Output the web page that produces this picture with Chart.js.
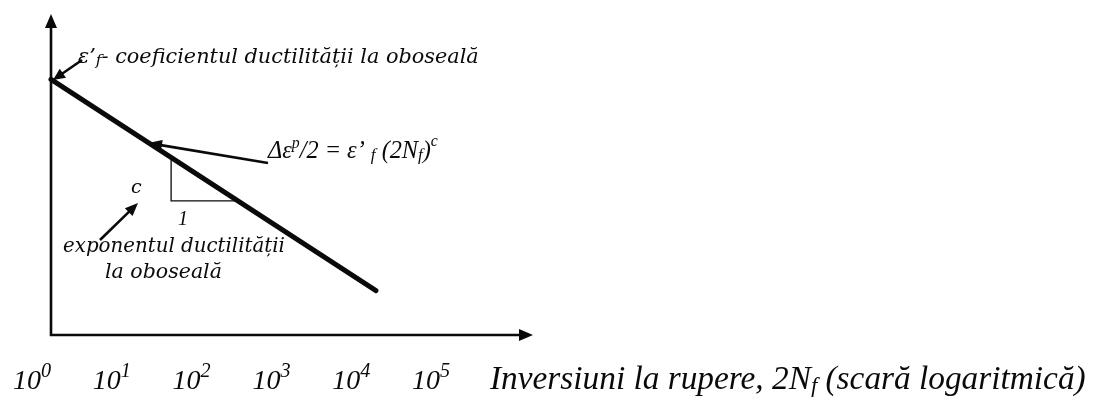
<!DOCTYPE html>
<html>
<head>
<meta charset="utf-8">
<script src="https://cdn.jsdelivr.net/npm/chart.js@4.4.1/dist/chart.umd.min.js"></script>
<style>
  html, body { margin: 0; padding: 0; background: #fff; }
  canvas { display: block; }
</style>
</head>
<body>
<canvas id="c" width="1095" height="397"></canvas>
<script>
// Plastic strain amplitude vs. reversals to failure (Coffin–Manson), log–log schematic
const reversals = [1, 11800];                 // 2N_f
const plasticAmplitude = [0.5, 0.00109];      // Δε^p/2
const slopeTriangleX = [32, 32, 222];         // run of the "1 : c" slope marker
const slopeTriangleY = [0.052, 0.0147, 0.0147];
const tickExponents = [0, 1, 2, 3, 4, 5];     // decade labels 10^n
const tickBase = '10';

const INK = '#0a0a0a';
const SERIF_ANN = '"DejaVu Serif", serif';
const SERIF_TNR = '"Liberation Serif", "Times New Roman", serif';

function richWidth(ctx, pieces, size, family) {
  let w = 0;
  for (const p of pieces) {
    ctx.font = `italic ${size * (p.s || 1)}px ${family}`;
    w += ctx.measureText(p.t).width;
  }
  return w;
}

// Draws italic text runs (with sub/superscripts), optionally scaling the
// font so the whole run spans a given width.
function drawRich(ctx, pieces, x, y, family, size, fitWidth) {
  if (fitWidth) size = size * fitWidth / richWidth(ctx, pieces, size, family);
  ctx.textAlign = 'left';
  ctx.textBaseline = 'alphabetic';
  for (const p of pieces) {
    ctx.font = `italic ${size * (p.s || 1)}px ${family}`;
    ctx.fillText(p.t, x, y + (p.dy || 0) * size);
    x += ctx.measureText(p.t).width;
  }
  return size;
}

function arrow(ctx, x0, y0, x1, y1, lw, headLen, headW) {
  const a = Math.atan2(y1 - y0, x1 - x0);
  const c = Math.cos(a), s = Math.sin(a);
  const bx = x1 - headLen * c, by = y1 - headLen * s;
  ctx.lineWidth = lw;
  ctx.beginPath();
  ctx.moveTo(x0, y0);
  ctx.lineTo(bx + 1 * c, by + 1 * s);
  ctx.stroke();
  ctx.beginPath();
  ctx.moveTo(x1, y1);
  ctx.lineTo(bx - headW * s, by + headW * c);
  ctx.lineTo(bx + headW * s, by - headW * c);
  ctx.closePath();
  ctx.fill();
}

const annotations = {
  id: 'annotations',
  afterDraw(chart) {
    const { ctx, chartArea: ca, scales } = chart;
    const xs = scales.x;
    ctx.save();
    ctx.strokeStyle = INK;
    ctx.fillStyle = INK;
    ctx.lineCap = 'butt';

    // axes with arrowheads
    ctx.lineWidth = 2.6;
    ctx.beginPath();
    ctx.moveTo(ca.left, ca.bottom + 1.3);
    ctx.lineTo(ca.left, ca.top + 12);
    ctx.moveTo(ca.left - 1.3, ca.bottom);
    ctx.lineTo(ca.right - 12, ca.bottom);
    ctx.stroke();
    ctx.beginPath();
    ctx.moveTo(ca.left, ca.top);
    ctx.lineTo(ca.left - 6, ca.top + 14);
    ctx.lineTo(ca.left + 6, ca.top + 14);
    ctx.closePath();
    ctx.moveTo(ca.right, ca.bottom);
    ctx.lineTo(ca.right - 14, ca.bottom - 6);
    ctx.lineTo(ca.right - 14, ca.bottom + 6);
    ctx.closePath();
    ctx.fill();

    // decade labels along the reversals axis
    for (const e of tickExponents) {
      const left = xs.getPixelForValue(Math.pow(10, e)) - 38;
      drawRich(ctx, [
        { t: tickBase },
        { t: String(e), s: 0.72, dy: -0.43 }
      ], left, 389, SERIF_TNR, 28);
    }

    // axis title
    drawRich(ctx, [
      { t: 'Inversiuni la rupere, 2N' },
      { t: 'f', s: 0.68, dy: 0.12 },
      { t: ' (scară logaritmică)' }
    ], 490, 389, SERIF_TNR, 28, 596);

    // ε'_f label and its arrow to the intercept
    drawRich(ctx, [
      { t: 'ε\u2019' },
      { t: 'f', s: 0.75, dy: 0.12 },
      { t: '- coeficientul ductilității la oboseală' }
    ], 78, 63, SERIF_ANN, 17, 401);
    arrow(ctx, 82, 60, ca.left + 2, 80, 2.6, 12, 5.5);

    // Coffin–Manson relation and its arrow to the line
    drawRich(ctx, [
      { t: 'Δε' },
      { t: 'p', s: 0.65, dy: -0.42 },
      { t: '/2 = ε\u2019 ' },
      { t: 'f', s: 0.7, dy: 0.1 },
      { t: ' (2N' },
      { t: 'f', s: 0.7, dy: 0.1 },
      { t: ')' },
      { t: 'c', s: 0.65, dy: -0.5 }
    ], 268, 158, SERIF_TNR, 20, 170);
    arrow(ctx, 268, 163, 148, 143, 2.6, 14, 5.5);

    // slope marker labels
    drawRich(ctx, [{ t: 'c' }], 131, 193, SERIF_ANN, 19);
    drawRich(ctx, [{ t: '1' }], 178, 225, SERIF_TNR, 20);
    arrow(ctx, 100, 240, 138, 203, 2.6, 13, 5.5);

    // fatigue ductility exponent caption
    drawRich(ctx, [{ t: 'exponentul ductilității' }], 63, 252, SERIF_ANN, 17, 222);
    drawRich(ctx, [{ t: 'la oboseală' }], 105, 278, SERIF_ANN, 17, 117);

    ctx.restore();
  }
};

const toPoints = (xs, ys) => xs.map((x, i) => ({ x, y: ys[i] }));

new Chart(document.getElementById('c'), {
  type: 'scatter',
  data: {
    datasets: [
      {
        label: 'Δε^p/2',
        data: toPoints(reversals, plasticAmplitude),
        showLine: true,
        borderColor: INK,
        borderWidth: 5,
        borderCapStyle: 'round',
        pointRadius: 0,
        clip: false
      },
      {
        label: 'pantă',
        data: toPoints(slopeTriangleX, slopeTriangleY),
        showLine: true,
        borderColor: INK,
        borderWidth: 1.3,
        pointRadius: 0
      }
    ]
  },
  options: {
    responsive: false,
    devicePixelRatio: 1,
    animation: false,
    events: [],
    layout: { padding: { left: 51, right: 562, top: 14, bottom: 62 } },
    plugins: { legend: { display: false }, tooltip: { enabled: false } },
    scales: {
      x: { type: 'logarithmic', display: false, min: 1, max: Math.pow(10, 6.04) },
      y: { type: 'logarithmic', display: false, min: Math.pow(10, -3.5), max: Math.pow(10, 0.523) }
    }
  },
  plugins: [annotations]
});
</script>
</body>
</html>
